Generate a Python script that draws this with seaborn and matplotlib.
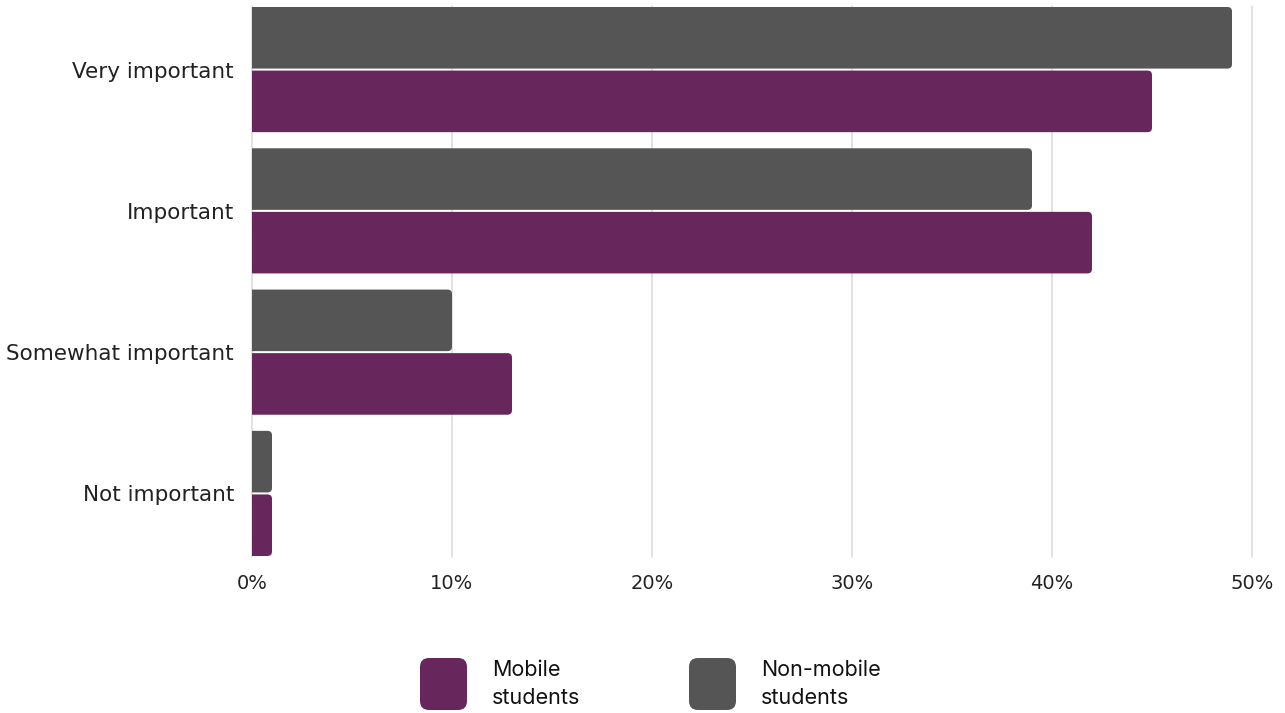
import matplotlib
matplotlib.use("Agg")
import matplotlib.pyplot as plt
from matplotlib.patches import FancyBboxPatch
import seaborn as sns
import pandas as pd

categories = ["Very important", "Important", "Somewhat important", "Not important"]
mobile = [45, 42, 13, 1]
non_mobile = [49, 39, 10, 1]
groups = ["Non-mobile students", "Mobile students"]
legend_labels = ["Mobile\nstudents", "Non-mobile\nstudents"]
x_ticks = [0, 10, 20, 30, 40, 50]
x_tick_labels = ["0%", "10%", "20%", "30%", "40%", "50%"]

PURPLE = "#67265c"
GRAY = "#555555"
palette = {"Mobile students": PURPLE, "Non-mobile students": GRAY}

df = pd.DataFrame({
    "category": categories * 2,
    "group": ["Mobile students"] * len(categories) + ["Non-mobile students"] * len(categories),
    "value": mobile + non_mobile,
})

sns.set_theme(style="white")
plt.rcParams["font.family"] = ["DejaVu Sans"]

W, H = 1285, 713
fig = plt.figure(figsize=(W / 100, H / 100), dpi=100)
ax_l, ax_r, ax_t, ax_b = 252, 1252, 6, 557
ax = fig.add_axes([ax_l / W, 1 - ax_b / H, (ax_r - ax_l) / W, (ax_b - ax_t) / H])

sns.barplot(data=df, y="category", x="value", hue="group", order=categories,
            hue_order=groups, palette=palette, orient="h", width=0.9,
            saturation=1, ax=ax, legend=False)

ax.set_xlim(0, 50)
ax.set_ylim(3.45, -0.45)

# replace plain rectangles with bars rounded at the value end
px_x = (ax_r - ax_l) / 50.0
px_y = (ax_b - ax_t) / 3.9
radius_px = 4.5
gap = 1.0 / px_y
bars = list(ax.patches)
for p in bars:
    x0, y0 = p.get_x(), p.get_y()
    w, h = p.get_width(), p.get_height()
    color = p.get_facecolor()
    p.remove()
    ext = radius_px / px_x * 2
    fb = FancyBboxPatch((x0 - ext, y0 + gap), w + ext, h - 2 * gap,
                        boxstyle=f"round,pad=0,rounding_size={radius_px / px_x}",
                        mutation_aspect=px_x / px_y,
                        facecolor=color, edgecolor="none", zorder=3)
    fb.set_clip_on(True)
    ax.add_patch(fb)

for xv in x_ticks:
    ax.axvline(xv, color="#dadada", linewidth=1.1, zorder=1, clip_on=False)

for s in ax.spines.values():
    s.set_visible(False)
ax.set_xticks(x_ticks)
ax.set_xticklabels(x_tick_labels)
ax.set_xlabel("")
ax.set_ylabel("")
ax.tick_params(axis="x", length=0, pad=12, labelsize=14, colors="#222222")
ax.tick_params(axis="y", length=0, pad=13, labelsize=15.5, colors="#222222")
ax.grid(False)

# legend drawn in a pixel-unit overlay
lax = fig.add_axes([0, 0, 1, 1])
lax.set_xlim(0, W)
lax.set_ylim(H, 0)
lax.axis("off")
items = [(420, PURPLE, legend_labels[0]), (689, GRAY, legend_labels[1])]
for x0, col, lab in items:
    lax.add_patch(FancyBboxPatch((x0, 658), 47, 52,
                                 boxstyle="round,pad=0,rounding_size=9",
                                 facecolor=col, edgecolor="none"))
    lax.text(x0 + 72, 684, lab, ha="left", va="center", fontsize=15.5,
             color="#111111", linespacing=1.45, family=["Inter", "DejaVu Sans"])

fig.savefig("out.png", dpi=100, facecolor="white")
